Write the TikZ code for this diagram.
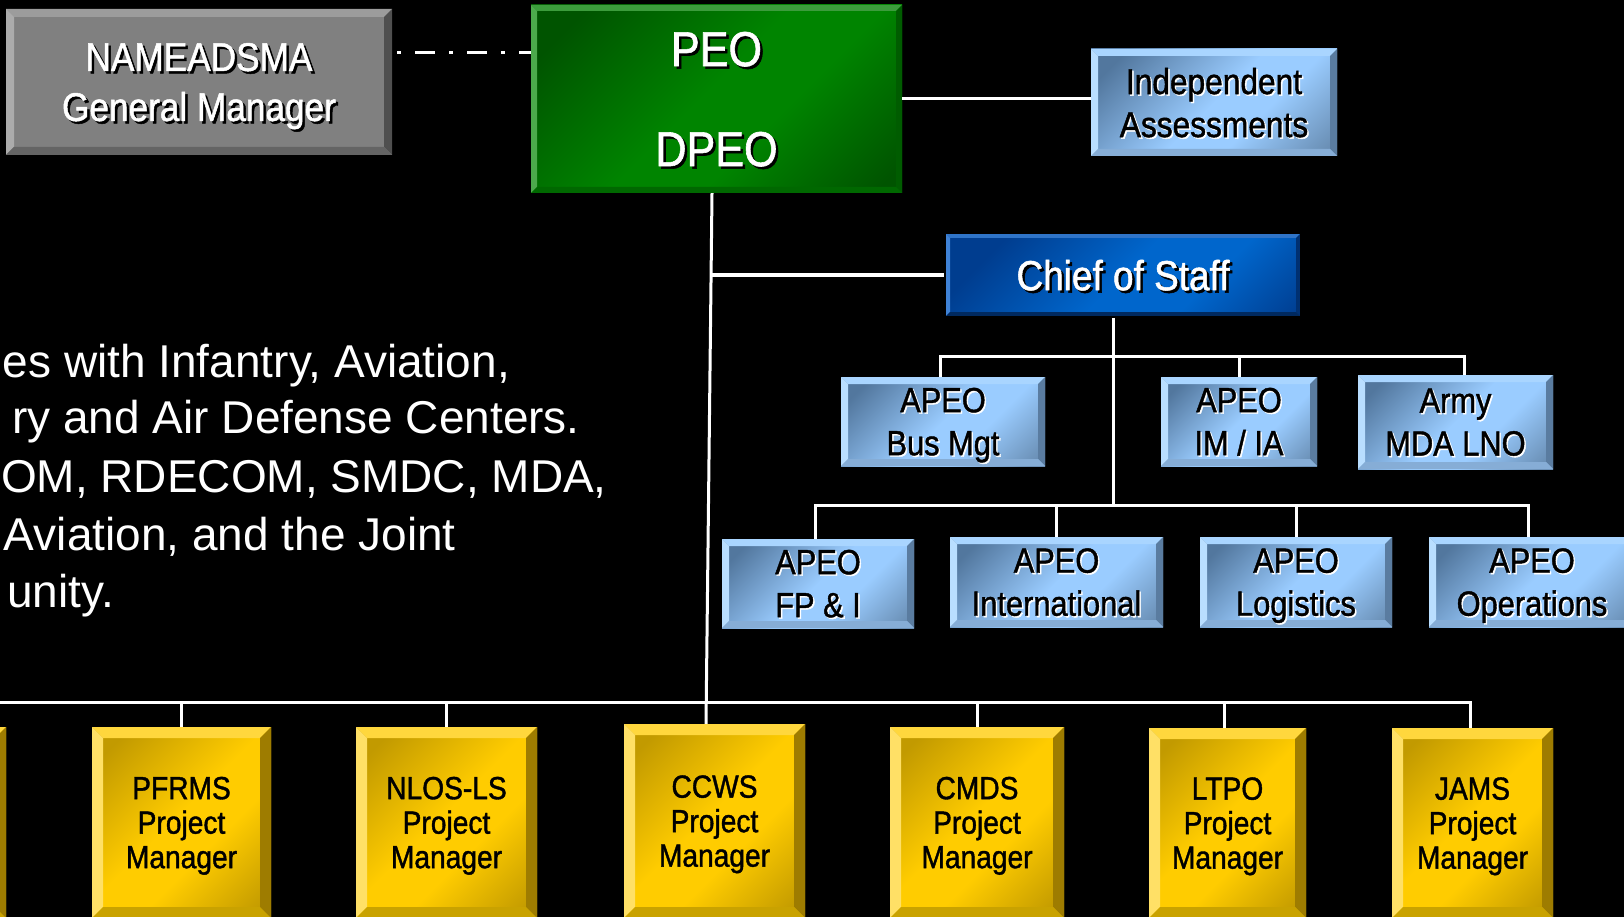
\documentclass[tikz,border=0pt]{standalone}
\usepackage{fontspec}
\setmainfont{Liberation Sans}
\newfontfamily\nar[FakeStretch=0.88,FakeBold=1.2]{Liberation Sans}
% colours
\definecolor{gface}{HTML}{808080}
\definecolor{gtop}{HTML}{9C9C9C}
\definecolor{gleft}{HTML}{ABABAB}
\definecolor{gright}{HTML}{4F4F4F}
\definecolor{gbot}{HTML}{646464}
\definecolor{grdark}{HTML}{005400}
\definecolor{grbright}{HTML}{008400}
\definecolor{grtop}{HTML}{3C9C3C}
\definecolor{grleft}{HTML}{4CAA4C}
\definecolor{grright}{HTML}{005C00}
\definecolor{grbot}{HTML}{006800}
\definecolor{lbdark}{HTML}{52779E}
\definecolor{lbdarkb}{HTML}{6A8FB5}
\definecolor{lbbright}{HTML}{9ACCFF}
\definecolor{lbtop}{HTML}{A9D5FF}
\definecolor{lbleft}{HTML}{B9DEFF}
\definecolor{lbright}{HTML}{5A7CA0}
\definecolor{lbbot}{HTML}{86ADD6}
\definecolor{cdark}{HTML}{003D8F}
\definecolor{cbright}{HTML}{0066CC}
\definecolor{ctop}{HTML}{2F74C8}
\definecolor{cleft}{HTML}{3F82D6}
\definecolor{cright}{HTML}{003071}
\definecolor{cbot}{HTML}{00295F}
\definecolor{ydark}{HTML}{C29A00}
\definecolor{ybright}{HTML}{FFCC00}
\definecolor{ytop}{HTML}{FFD73D}
\definecolor{yleft}{HTML}{FFE066}
\definecolor{yright}{HTML}{9E7C00}
\definecolor{ybot}{HTML}{C9A200}
% shadings
\pgfdeclarehorizontalshading{ysh}{100bp}{color(0bp)=(ydark); color(22bp)=(ydark); color(48bp)=(ybright); color(60bp)=(ybright); color(82bp)=(ydark); color(100bp)=(ydark)}
\pgfdeclarehorizontalshading{grsh}{100bp}{color(0bp)=(grdark); color(22bp)=(grdark); color(48bp)=(grbright); color(60bp)=(grbright); color(82bp)=(grdark); color(100bp)=(grdark)}
\pgfdeclarehorizontalshading{lbsh}{100bp}{color(0bp)=(lbdark); color(22bp)=(lbdark); color(50bp)=(lbbright); color(62bp)=(lbbright); color(82bp)=(lbdarkb); color(100bp)=(lbdarkb)}
\pgfdeclarehorizontalshading{csh}{100bp}{color(0bp)=(cdark); color(25bp)=(cdark); color(50bp)=(cbright); color(65bp)=(cbright); color(85bp)=(cdark); color(100bp)=(cdark)}
% bevel drawing inside a node
\newcommand\bevelpic[5]{%
  \path (path picture bounding box.north west) coordinate (pNW)
        (path picture bounding box.north east) coordinate (pNE)
        (path picture bounding box.south west) coordinate (pSW)
        (path picture bounding box.south east) coordinate (pSE);
  \fill[#2] (pNW) -- (pNE) -- ([xshift=-#1,yshift=-#1]pNE) -- ([xshift=#1,yshift=-#1]pNW) -- cycle;
  \fill[#3] (pNW) -- ([xshift=#1,yshift=-#1]pNW) -- ([xshift=#1,yshift=#1]pSW) -- (pSW) -- cycle;
  \fill[#4] (pNE) -- (pSE) -- ([xshift=-#1,yshift=#1]pSE) -- ([xshift=-#1,yshift=-#1]pNE) -- cycle;
  \fill[#5] (pSW) -- ([xshift=#1,yshift=#1]pSW) -- ([xshift=-#1,yshift=#1]pSE) -- (pSE) -- cycle;
}
\newcommand\shw[1]{{\rlap{\kern2.5pt\raisebox{-2.5pt}{\color{black}#1}}\color{white}#1}}
\newcommand\shb[1]{{\rlap{\kern1.5pt\raisebox{-1.5pt}{\color{white}#1}}\color{black}#1}}
\newcommand\nodp[1]{\raisebox{0pt}[\height][0pt]{#1}}
\tikzset{
  conn/.style={draw=white, line width=3pt},
  ddash/.style={draw=white, line width=3pt, dash pattern=on 4pt off 14pt on 20pt off 14pt},
  boxbase/.style={inner sep=0pt, align=center},
  graybox/.style={boxbase, fill=gface, path picture={\bevelpic{8pt}{gtop}{gleft}{gright}{gbot}}, font=\nar\fontsize{40}{50}\selectfont},
  greenbox/.style={boxbase, shading=grsh, shading angle=-45, path picture={\bevelpic{6pt}{grtop}{grleft}{grright}{grbot}}, font=\nar\fontsize{49}{100}\selectfont},
  lbbox/.style={boxbase, shading=lbsh, shading angle=-45, path picture={\bevelpic{7pt}{lbtop}{lbleft}{lbright}{lbbot}}, font=\nar\fontsize{35}{43}\selectfont},
  cosbox/.style={boxbase, shading=csh, shading angle=-45, path picture={\bevelpic{5pt}{ctop}{cleft}{cright}{cbot}}, draw=black, line width=2pt, font=\nar\fontsize{42}{50}\selectfont},
  ybox/.style={boxbase, shading=ysh, shading angle=-45, path picture={\bevelpic{11pt}{ytop}{yleft}{yright}{ybot}}, font=\nar\fontsize{32}{34.5}\selectfont, text=black},
  ltext/.style={inner sep=0pt, anchor=base east, text=white, font=\fontsize{46}{55}\selectfont},
}
\begin{document}
\begin{tikzpicture}[x=1pt, y=-1pt]
\useasboundingbox (0,0) rectangle (1624,917);
\fill[black] (0,0) rectangle (1624,917);
\clip (0,0) rectangle (1624,917);

% ---- boxes
\node[graybox, minimum width=386pt, minimum height=146pt] (gm) at (199,82) {\shw{NAMEADSMA}\\\nodp{\shw{General Manager}}};
\node[greenbox, minimum width=371pt, minimum height=188pt] (peo) at (716.5,99) {\shw{PEO}\\\nodp{\shw{DPEO}}};
\node[lbbox, minimum width=246pt, minimum height=107pt, font=\nar\fontsize{36}{43}\selectfont] (ia) at (1214,102.5) {\shb{Independent}\\\nodp{\shb{Assessments}}};
\node[cosbox, minimum width=356pt, minimum height=84pt] (cos) at (1123,275) {\nodp{\shw{Chief of Staff}}};

\node[lbbox, minimum width=204pt, minimum height=89pt] (busmgt) at (943,421.5) {\shb{APEO}\\\nodp{\shb{Bus Mgt}}};
\node[lbbox, minimum width=156pt, minimum height=89pt] (imia) at (1239,421.5) {\shb{APEO}\\\nodp{\shb{IM / IA}}};
\node[lbbox, minimum width=195pt, minimum height=94pt] (mda) at (1455.5,422) {\shb{Army}\\\nodp{\shb{MDA LNO}}};

\node[lbbox, minimum width=192pt, minimum height=89pt] (fpi) at (818,583.5) {\shb{APEO}\\\nodp{\shb{FP \& I}}};
\node[lbbox, minimum width=213pt, minimum height=90pt] (intl) at (1056.5,582) {\shb{APEO}\\\nodp{\shb{International}}};
\node[lbbox, minimum width=192pt, minimum height=90pt] (logi) at (1296,582) {\shb{APEO}\\\nodp{\shb{Logistics}}};
\node[lbbox, minimum width=206pt, minimum height=90pt] (ops) at (1532,582) {\shb{APEO}\\\nodp{\shb{Operations}}};

\node[ybox, minimum width=175pt, minimum height=191pt] (pm0) at (-81.5,822.5) {};
\node[ybox, minimum width=179pt, minimum height=191pt] (pfrms) at (181.5,822.5) {PFRMS\\Project\\\nodp{Manager}};
\node[ybox, minimum width=181pt, minimum height=191pt] (nlos) at (446.5,822.5) {NLOS-LS\\Project\\\nodp{Manager}};
\node[ybox, minimum width=181pt, minimum height=194pt] (ccws) at (714.5,821) {CCWS\\Project\\\nodp{Manager}};
\node[ybox, minimum width=174pt, minimum height=191pt] (cmds) at (977,822.5) {CMDS\\Project\\\nodp{Manager}};
\node[ybox, minimum width=157pt, minimum height=190pt] (ltpo) at (1227.5,823) {LTPO\\Project\\\nodp{Manager}};
\node[ybox, minimum width=161pt, minimum height=190pt] (jams) at (1472.5,823) {JAMS\\Project\\\nodp{Manager}};

% ---- left text
\node[ltext] (t1) at (510,377) {es with Infantry, Aviation,};
\node[ltext] (t2) at (580,433) {ry and Air Defense Centers.};
\node[ltext] (t3) at (607,492) {OM, RDECOM, SMDC, MDA,};
\node[ltext] (t4) at (456,550) {Aviation, and the Joint};
\node[ltext] (t5) at (114,607) {unity.};

% ---- connectors
\coordinate (dd) at (397,53);
\draw[ddash] (dd) -- (dd -| peo.west);
\draw[conn] (peo.east) -- (peo.east -| ia.west);

\coordinate (tt) at (712,0);
\coordinate (tb) at (706,0);
\draw[conn] (peo.south -| tt) -- (ccws.north -| tb);
\coordinate (cb) at (711,275);
\draw[conn] (cb) -- (cos.west);

\coordinate (cst) at (1113,505);
\draw[conn] (cos.south -| cst) -- (cst);
\coordinate (b1L) at (940,356);
\coordinate (b1R) at (1464,356);
\draw[conn] (busmgt.north -| b1L) -- (b1L) -- (b1R) -- (mda.north -| b1R);
\draw[conn] (imia.north) -- (imia.north |- b1L);

\coordinate (b2L) at (815,505);
\coordinate (b2R) at (1528,505);
\draw[conn] (fpi.north -| b2L) -- (b2L) -- (b2R) -- (ops.north -| b2R);
\draw[conn] (intl.north) -- (intl.north |- b2L);
\draw[conn] (logi.north) -- (logi.north |- b2L);

\coordinate (b3L) at (-5,702);
\coordinate (b3R) at (1470,702);
\coordinate (ltd) at (1224,702);
\draw[conn] (b3L) -- (b3R) -- (jams.north -| b3R);
\draw[conn] (pfrms.north) -- (pfrms.north |- b3L);
\draw[conn] (nlos.north) -- (nlos.north |- b3L);
\draw[conn] (cmds.north) -- (cmds.north |- b3L);
\draw[conn] (ltpo.north -| ltd) -- (ltd);
\end{tikzpicture}
\end{document}
